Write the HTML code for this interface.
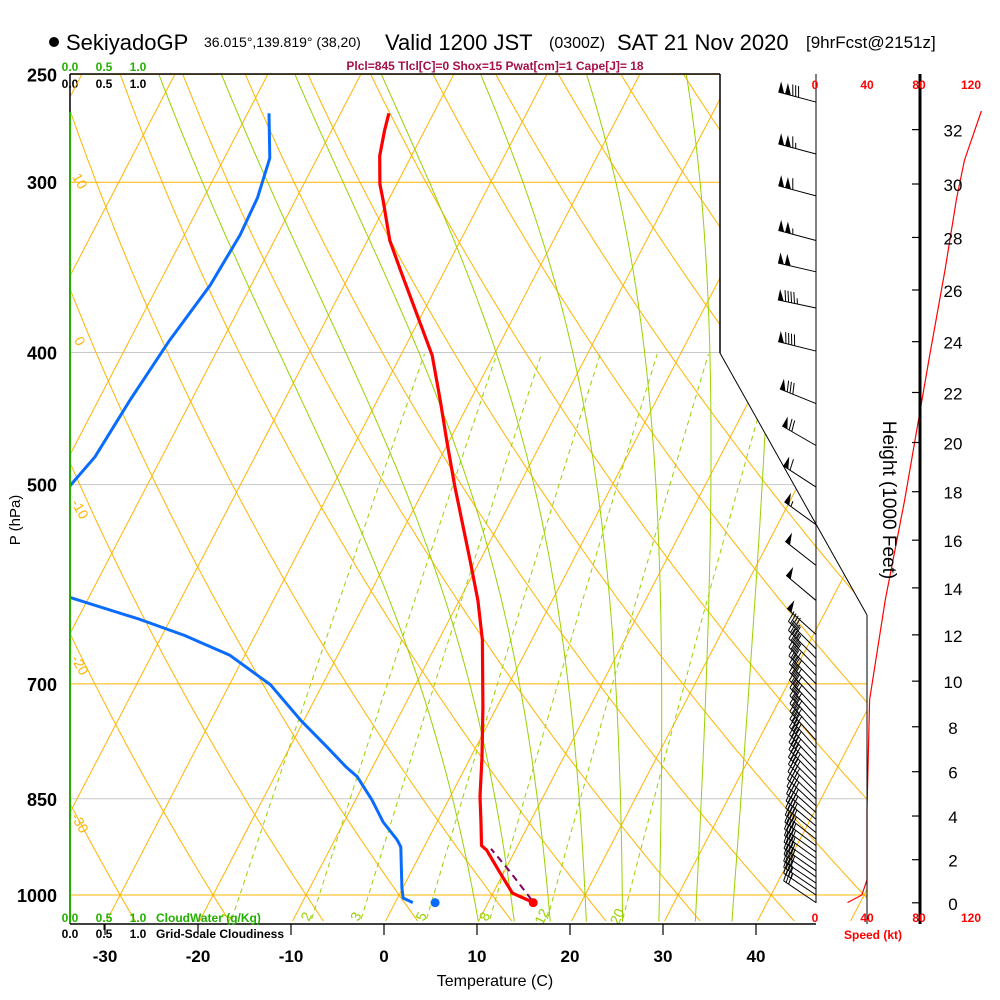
<!DOCTYPE html>
<html><head><meta charset="utf-8">
<style>
html,body{margin:0;padding:0;background:#fff;}
svg{display:block;font-family:"Liberation Sans",sans-serif;}
</style></head>
<body>
<svg id="chart" width="1000" height="1000" viewBox="0 0 1000 1000" xmlns="http://www.w3.org/2000/svg">
<defs>
<clipPath id="gridClip"><polygon points="70,74 720,74 720,353 867,615 867,924 70,924"/></clipPath>
<clipPath id="plotClip"><rect x="70" y="74" width="650" height="850"/></clipPath>
</defs>
<rect x="0" y="0" width="1000" height="1000" fill="#fff"/>
<g>
<circle cx="54" cy="42" r="5" fill="#000"/>
<text x="66" y="50" font-size="22" fill="#000">SekiyadoGP</text>
<text x="204" y="47" font-size="14" fill="#000">36.015°,139.819° (38,20)</text>
<text x="385" y="50" font-size="22" fill="#000">Valid 1200 JST</text>
<text x="549" y="48" font-size="16" fill="#000">(0300Z)</text>
<text x="617" y="50" font-size="22" fill="#000">SAT 21 Nov 2020</text>
<text x="806" y="48" font-size="17" fill="#000">[9hrFcst@2151z]</text>
</g>
<text x="495" y="70" font-size="12" font-weight="bold" fill="#a8104a" text-anchor="middle">Plcl=845 Tlcl[C]=0 Shox=15 Pwat[cm]=1 Cape[J]= 18</text>
<g font-size="12" font-weight="bold" text-anchor="middle">
<text x="70" y="71" fill="#22b000">0.0</text><text x="104" y="71" fill="#22b000">0.5</text><text x="138" y="71" fill="#22b000">1.0</text>
<text x="70" y="88" fill="#000">0.0</text><text x="104" y="88" fill="#000">0.5</text><text x="138" y="88" fill="#000">1.0</text>
</g>
<g id="grid" clip-path="url(#gridClip)"></g>
<g id="traces"></g>
<g id="frame"></g>
<g id="barbs"></g>
<g id="axes"></g>
<text transform="translate(20,520) rotate(-90)" font-size="15" text-anchor="middle">P (hPa)</text>
<text x="495" y="986" font-size="16" text-anchor="middle">Temperature (C)</text>
<text transform="translate(883,500) rotate(90)" font-size="19" text-anchor="middle">Height (1000 Feet)</text>
<text x="873" y="939" font-size="12" font-weight="bold" fill="#f00" text-anchor="middle">Speed (kt)</text>
<g font-size="12" font-weight="bold">
<text x="70" y="922" fill="#22b000" text-anchor="middle">0.0</text><text x="104" y="922" fill="#22b000" text-anchor="middle">0.5</text><text x="138" y="922" fill="#22b000" text-anchor="middle">1.0</text>
<text x="156" y="922" fill="#22b000">CloudWater (g/Kg)</text>
<text x="70" y="938" fill="#000" text-anchor="middle">0.0</text><text x="104" y="938" fill="#000" text-anchor="middle">0.5</text><text x="138" y="938" fill="#000" text-anchor="middle">1.0</text>
<text x="156" y="938" fill="#000">Grid-Scale Cloudiness</text>
</g>
</svg>
<script>
// ---------- data ----------
const tempP = [1013,997,963,927,920,886,847,792,728,650,608,568,501,464,433,402,376,348,331,309,301,287,275,267];
const tempT = [14.9,12.1,9.6,6.9,6.1,4.8,3.2,1.2,-1.5,-5.3,-8.0,-11.1,-16.9,-20.3,-23.3,-26.6,-30.4,-34.8,-37.6,-40.6,-41.8,-43.4,-44.3,-44.8];
const dewP = [1013,1005,988,922,911,884,852,819,806,779,744,701,667,645,628,605,550,502,477,433,392,357,328,308,288,267];
const dewT = [1.9,0.6,-0.1,-2.5,-3.3,-5.8,-8.2,-11.1,-12.8,-16.0,-20.4,-25.6,-31.6,-37.6,-43.2,-52.0,-62,-58.3,-57.2,-56.6,-55.7,-54.4,-54.0,-54.2,-55.1,-57.7];
const parcelP = [1008,960,925];
const parcelT = [14.5,10.5,7.3];
const sfcT = 14.85, sfcTd = 4.3, sfcP = 1013;
const speedP = [1013,1000,975,866,719,608,513,403,348,308,289,266];
const speedKt = [25,36,40,40,42,54,69,88,100,109,115,128];
const barbP = [262,286,307,331,349,371,399,436,468,502,535,573,608,644,
  660,670,680,690,700,710,720,730,740,750,760,770,780,790,800,810,820,830,840,850,860,870,880,890,900,910,920,930,940,950,960,970,980,990,1000,1013];
const barbKt = [128,116,109,104,100,95,88,80,72,62,54,50,50,48,
  45,44,43,42,42,42,42,41,41,41,41,40,40,40,40,40,40,40,40,40,40,40,40,40,40,40,40,40,40,40,40,40,38,36,35,30];
const barbDir = [285,285,285,285,283,282,284,292,300,303,306,308,310,312,
  315,315,316,316,316,317,317,317,318,318,318,318,318,317,317,316,316,315,315,314,313,312,311,310,309,308,307,306,306,305,305,305,304,304,304,304];
const tTicks = [-30,-20,-10,0,10,20,30,40];
const pTicks = [250,300,400,500,700,850,1000];
const hTicks = [0,2,4,6,8,10,12,14,16,18,20,22,24,26,28,30,32];
const spdTicks = [0,40,80,120];
const isotherms = [-110,-100,-90,-80,-70,-60,-50,-40,-30,-20,-10,0,10,20,30,40,50];
const dryAdiabats = [-40,-30,-20,-10,0,10,20,30,40,50,60,70,80,90,100,110,120,130,140];
const moistAdiabats = [8,12,16,20,24,28,32,36];
const mixRatios = [1,2,3,5,8,12,20];

// ---------- scales ----------
const Y1000 = 895, KP = 592, XB = 384, YB = 924, DX = 9.3, SK = 0.52;
function yP(p){ return Y1000 - KP*Math.log(1000/p); }
function xT(t,p){ return XB + DX*t + SK*(YB - yP(p)); }
function xSpd(s){ return 815 + s*1.3; }
function hToP(hft){ const h=hft*1000*0.3048; if(h<=11000) return 1013.25*Math.pow(1-0.0065*h/288.15,5.2559); return 226.32*Math.exp(-(h-11000)/6341.6); }

const NS="http://www.w3.org/2000/svg";
function mk(tag, attrs, parent){ const e=document.createElementNS(NS,tag); for(const k in attrs) e.setAttribute(k,attrs[k]); parent.appendChild(e); return e; }
const grid=document.getElementById('grid'), traces=document.getElementById('traces'), frame=document.getElementById('frame'), barbs=document.getElementById('barbs'), axes=document.getElementById('axes');
const pList=[]; for(let lp=Math.log(1045); lp>=Math.log(240); lp-=0.01) pList.push(Math.exp(lp));

pTicks.forEach(p=>{
  const y=yP(p);
  const col=(p===400||p===500||p===850)?'#c8c8c8':'#ffb400';
  const l=mk('line',{x1:70,y1:y,x2:870,y2:y,stroke:col,'stroke-width':1},grid);
  
  
});
isotherms.forEach(t=>{
  const l=mk('line',{x1:xT(t,1045),y1:yP(1045),x2:xT(t,240),y2:yP(240),stroke:'#ffb400','stroke-width':1},grid);
  
  
});
dryAdiabats.forEach(th=>{
  const pts=pList.map(p=>{const T=(th+273.15)*Math.pow(p/1000,0.2857)-273.15; return xT(T,p).toFixed(1)+','+yP(p).toFixed(1);});
  const l=mk('polyline',{points:pts.join(' '),fill:'none',stroke:'#ffb400','stroke-width':1},grid);
  
  
});
function es(t){ return 6.112*Math.exp(17.67*t/(t+243.5)); }
function moistLine(tw){
  const dl=0.005;
  function step(T,p,dir){ const Tk=T+273.15; const rs=0.622*es(T)/(p-es(T)); const g=(287*Tk+2.5e6*rs)/(1004+2.5e6*2.5e6*rs*0.622/(287*Tk*Tk)); return T+dir*g*dl; }
  let T=tw,p=1000; const up=[];
  while(p>240){ up.push([T,p]); T=step(T,p,-1); p=p*Math.exp(-dl); }
  T=tw;p=1000; const dn=[];
  while(p<1045){ T=step(T,p,1); p=p*Math.exp(dl); dn.push([T,p]); }
  return dn.reverse().concat(up);
}
moistAdiabats.forEach(tw=>{
  const pts=moistLine(tw).map(a=>xT(a[0],a[1]).toFixed(1)+','+yP(a[1]).toFixed(1));
  const l=mk('polyline',{points:pts.join(' '),fill:'none',stroke:'#99d100','stroke-width':1},grid);
  
  
});
mixRatios.forEach(w=>{
  const pts=[]; for(let p=1041;p>=400;p-=10){ const e=w*p/(622+w); const ln=Math.log(e/6.112); const td=243.5*ln/(17.67-ln); pts.push(xT(td,p).toFixed(1)+','+yP(p).toFixed(1)); }
  const l=mk('polyline',{points:pts.join(' '),fill:'none',stroke:'#99d100','stroke-width':1,'stroke-dasharray':'5,4'},grid);
  
  
  const p=1030, e=w*p/(622+w), ln=Math.log(e/6.112), td=243.5*ln/(17.67-ln);
  const tx=mk('text',{x:xT(td,p)-3,y:yP(p)+6,'font-size':14,fill:'#99d100',transform:'rotate(-65 '+(xT(td,p)-3)+' '+(yP(p)+6)+')','text-anchor':'middle'},grid);
  tx.textContent=String(w);
  
  
});
[['0',733,243],['10',758,378],['20',803,465],['30',853,555]].forEach(a=>{
  const t=mk('text',{x:a[1],y:a[2],'font-size':19,fill:'#ffb400','text-anchor':'middle',transform:'rotate(-60 '+a[1]+' '+(a[2]-6)+')'},grid);
  t.textContent=a[0];
  
  
});
[['10',80,186],['0',80,346],['-10',80,514],['-20',80,670],['-30',80,828]].forEach(a=>{
  const t=mk('text',{x:a[1],y:a[2],'font-size':14,fill:'#ffb400','text-anchor':'middle',transform:'rotate(60 '+a[1]+' '+(a[2]-5)+')'},grid);
  t.textContent=a[0];
  
  
});

function line(x1,y1,x2,y2,col,w,name){ const l=mk('line',{x1:x1,y1:y1,x2:x2,y2:y2,stroke:col,'stroke-width':w},frame);   return l; }
line(70,74,720,74,'#000',1.5,'plot-top-border');
line(720,74,720,353,'#000',1.5,'plot-right-border');
line(720,353,867,615,'#000',1,'barb-region-border');
line(867,615,867,924,'#000',1,'speed-40-line');
line(70,74,70,112,'#000',1.5,'plot-left-border');
line(70,112,70,924,'#22b000',2,'cloud-water-profile');
line(70,924,816,924,'#000',1.5,'x-axis-line');
line(104,924,104,930,'#000',1,'cloud-tick');
line(816,74,816,903,'#000',1,'barb-staff-line');
line(920,74,920,924,'#000',3,'height-axis-line');

function trace(P,T,col,w,name,dash){
  const pts=P.map((p,i)=>xT(T[i],p).toFixed(1)+','+yP(p).toFixed(1));
  const a={points:pts.join(' '),fill:'none',stroke:col,'stroke-width':w,'stroke-linejoin':'round'};
  if(dash) a['stroke-dasharray']=dash;
  const l=mk('polyline',a,traces);
  
  
  return l;
}
const tc=mk('g',{'clip-path':'url(#plotClip)'},traces);


const dl=trace(dewP,dewT,'#0a6cff',3,'dewpoint-line'); tc.appendChild(dl);
const tl=trace(tempP,tempT,'#ff0000',3.2,'temperature-line'); tc.appendChild(tl);
const pl=trace(parcelP,parcelT,'#800060',2,'parcel-line','7,5'); tc.appendChild(pl);
const sd1=mk('circle',{cx:xT(sfcT,sfcP),cy:yP(sfcP),r:4.5,fill:'#ff0000'},traces);


const sd2=mk('circle',{cx:xT(sfcTd,sfcP),cy:yP(sfcP),r:4.5,fill:'#0a6cff'},traces);


const sp=mk('polyline',{points:speedP.map((p,i)=>xSpd(speedKt[i]).toFixed(1)+','+yP(p).toFixed(1)).join(' '),fill:'none',stroke:'#ff0000','stroke-width':1.2},traces);



barbP.forEach((p,i)=>{
  const g=mk('g',{},barbs);
  
  
  const d=barbDir[i]*Math.PI/180, L=39;
  const ux=Math.sin(d), uy=-Math.cos(d);
  let nx=uy, ny=-ux; if(ny>0){nx=-nx;ny=-ny;}
  const x0=816,y0=yP(p), x1=x0+ux*L, y1=y0+uy*L;
  mk('line',{x1:x0,y1:y0,x2:x1,y2:y1,stroke:'#000','stroke-width':1},g);
  let s=Math.round(barbKt[i]/5)*5, pos=0; const F=11;
  while(s>=50){ const ax=x1-ux*pos, ay=y1-uy*pos, bx=x1-ux*(pos+6), by=y1-uy*(pos+6);
    mk('polygon',{points:ax+','+ay+' '+(ax+nx*F)+','+(ay+ny*F)+' '+bx+','+by,fill:'#000'},g); pos+=7; s-=50; }
  if(pos>0) pos+=1;
  while(s>=10){ const ax=x1-ux*pos, ay=y1-uy*pos;
    mk('line',{x1:ax,y1:ay,x2:ax+nx*F+ux*3,y2:ay+ny*F+uy*3,stroke:'#000','stroke-width':1},g); pos+=3; s-=10; }
  if(s>=5){ const ax=x1-ux*pos, ay=y1-uy*pos;
    mk('line',{x1:ax,y1:ay,x2:ax+nx*F*0.5+ux*1.5,y2:ay+ny*F*0.5+uy*1.5,stroke:'#000','stroke-width':1},g); }
});

function txt(x,y,s,attrs,name){ const a={x:x,y:y}; for(const k in attrs) a[k]=attrs[k]; const t=mk('text',a,axes); t.textContent=s;   return t; }
pTicks.forEach(p=>{ txt(57,yP(p)+7,String(p),{'font-size':18,'font-weight':'bold','text-anchor':'end'},'y-tick-label'); });
tTicks.forEach(t=>{
  const x=XB+DX*t;
  const l=mk('line',{x1:x,y1:924,x2:x,y2:935,stroke:'#000','stroke-width':1.2},axes);
  
  
  txt(x,962,String(t),{'font-size':17,'font-weight':'bold','text-anchor':'middle'},'x-tick-label');
});
spdTicks.forEach(s=>{
  txt(xSpd(s),89,String(s),{'font-size':12,'font-weight':'bold','text-anchor':'middle',fill:'#f00'},'speed-tick-label-top');
  txt(xSpd(s),922,String(s),{'font-size':12,'font-weight':'bold','text-anchor':'middle',fill:'#f00'},'speed-tick-label-bottom');
});
hTicks.forEach(h=>{
  const y=yP(hToP(h));
  const l=mk('line',{x1:912,y1:y,x2:920,y2:y,stroke:'#000','stroke-width':1.2},axes);
  
  
  txt(953,y+7,String(h),{'font-size':17,'text-anchor':'middle'},'height-tick-label');
});
</script>
</body></html>
